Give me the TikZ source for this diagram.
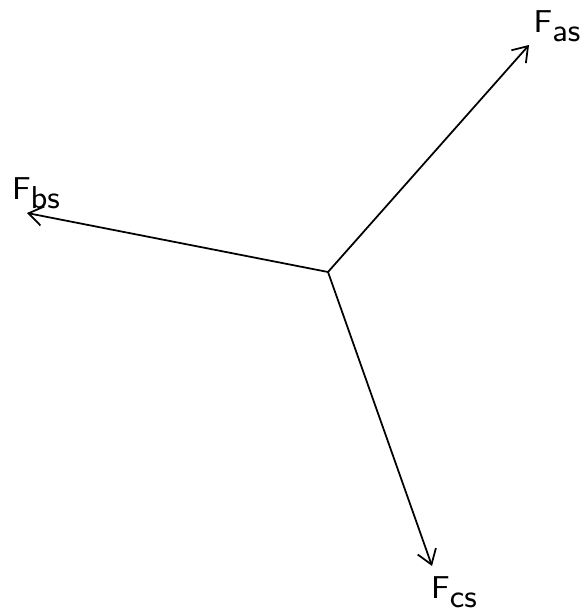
\documentclass[tikz,border=0pt]{standalone}
\usepackage{tikz}
\usetikzlibrary{arrows.meta}

\begin{document}
\begin{tikzpicture}[x=0.01cm, y=-0.01cm,
    vec/.style={-{Straight Barb[length=4pt,width=5.5pt]}, line width=0.5pt},
    lbl/.style={font=\sffamily\small, inner sep=1pt}]
  \useasboundingbox (0,0) rectangle (584,613);

  % origin and vector tips
  \coordinate (o) at (328,272);
  \coordinate (a) at (529,45);
  \coordinate (b) at (27,213);
  \coordinate (c) at (432,566);

  % labels
  \node[lbl] (Fas) at (557,26) {F\raisebox{-2.5pt}{as}};
  \node[lbl] (Fbs) at (36,193) {F\raisebox{-2.5pt}{bs}};
  \node[lbl] (Fcs) at (454,592) {F\raisebox{-2.5pt}{cs}};

  % space vectors
  \draw[vec] (o) -- (a);
  \draw[vec] (o) -- (b);
  \draw[vec] (o) -- (c);
\end{tikzpicture}
\end{document}
